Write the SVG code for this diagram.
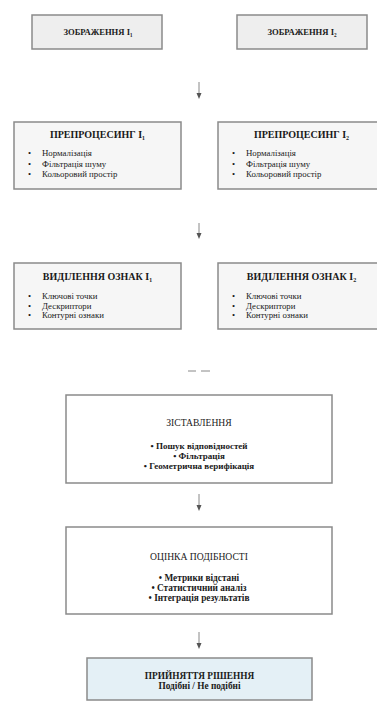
<svg xmlns="http://www.w3.org/2000/svg" width="377" height="704" viewBox="0 0 377 704">
<style>
text{font-family:"Liberation Serif","Times New Roman",serif;fill:#1a1a1a}
.box{stroke:#8a8a8a;stroke-width:1.5}
.g1{fill:#eeeeee}
.g2{fill:#f6f6f6}
.w{fill:#ffffff}
.b{fill:#e4f0f6}
.t1{font-size:8.6px;font-weight:bold;text-anchor:middle}
.t2{font-size:10px;font-weight:bold;text-anchor:middle}
.li{font-size:8.8px}
.t4{font-size:9.6px;text-anchor:middle}
.lc{font-size:9px;font-weight:bold;text-anchor:middle}
.lc2{font-size:9.3px;font-weight:bold;text-anchor:middle}
.conn{stroke:#888;stroke-width:1;fill:none}
</style>
<defs>
<marker id="ah" markerWidth="6" markerHeight="6" refX="3" refY="3" orient="auto" markerUnits="userSpaceOnUse">
<path d="M0,0.5 L6,3 L0,5.5 Z" fill="#555"/>
</marker>
</defs>
<rect width="377" height="704" fill="#fff"/>
<g id="connectors">
<line class="conn" x1="199" y1="82" x2="199" y2="96" marker-end="url(#ah)"/>
<line class="conn" x1="199" y1="223" x2="199" y2="236" marker-end="url(#ah)"/>
<line class="conn" x1="188" y1="371" x2="196" y2="371"/>
<line class="conn" x1="201" y1="371" x2="210" y2="371"/>
<line class="conn" x1="199" y1="494" x2="199" y2="508" marker-end="url(#ah)"/>
<line class="conn" x1="199" y1="632" x2="199" y2="646" marker-end="url(#ah)"/>
</g>
<g id="img1">
<rect class="box g1" x="32" y="15" width="130" height="34"/>
<text class="t1" x="98" y="35">ЗОБРАЖЕННЯ I₁</text>
</g>
<g id="img2">
<rect class="box g1" x="237" y="15" width="130" height="34"/>
<text class="t1" x="302" y="35">ЗОБРАЖЕННЯ I₂</text>
</g>
<g id="pre1">
<rect class="box g2" x="14" y="122" width="167" height="67"/>
<text class="t2" x="97.5" y="138">ПРЕПРОЦЕСИНГ I₁</text>
<text class="li" x="28" y="156">•</text><text class="li" x="42" y="156">Нормалізація</text>
<text class="li" x="28" y="166.5">•</text><text class="li" x="42" y="166.5">Фільтрація шуму</text>
<text class="li" x="28" y="177">•</text><text class="li" x="42" y="177">Кольоровий простір</text>
</g>
<g id="pre2">
<rect class="box g2" x="218" y="122" width="167" height="67"/>
<text class="t2" x="301.5" y="138">ПРЕПРОЦЕСИНГ I₂</text>
<text class="li" x="232" y="156">•</text><text class="li" x="246" y="156">Нормалізація</text>
<text class="li" x="232" y="166.5">•</text><text class="li" x="246" y="166.5">Фільтрація шуму</text>
<text class="li" x="232" y="177">•</text><text class="li" x="246" y="177">Кольоровий простір</text>
</g>
<g id="feat1">
<rect class="box g2" x="14" y="263" width="167" height="66"/>
<text class="t2" x="97.5" y="280">ВИДІЛЕННЯ ОЗНАК I₁</text>
<text class="li" x="28" y="298.5">•</text><text class="li" x="42" y="298.5">Ключові точки</text>
<text class="li" x="28" y="308.5">•</text><text class="li" x="42" y="308.5">Дескриптори</text>
<text class="li" x="28" y="318">•</text><text class="li" x="42" y="318">Контурні ознаки</text>
</g>
<g id="feat2">
<rect class="box g2" x="218" y="263" width="167" height="66"/>
<text class="t2" x="301.5" y="280">ВИДІЛЕННЯ ОЗНАК I₂</text>
<text class="li" x="232" y="298.5">•</text><text class="li" x="246" y="298.5">Ключові точки</text>
<text class="li" x="232" y="308.5">•</text><text class="li" x="246" y="308.5">Дескриптори</text>
<text class="li" x="232" y="318">•</text><text class="li" x="246" y="318">Контурні ознаки</text>
</g>
<g id="match">
<rect class="box w" x="66" y="395" width="266" height="88"/>
<text class="t4" x="199" y="426">ЗІСТАВЛЕННЯ</text>
<text class="lc" x="199" y="449">• Пошук відповідностей</text>
<text class="lc" x="199" y="459">• Фільтрація</text>
<text class="lc" x="199" y="469">• Геометрична верифікація</text>
</g>
<g id="sim">
<rect class="box w" x="66" y="527" width="266" height="87"/>
<text class="t4" x="199" y="560">ОЦІНКА ПОДІБНОСТІ</text>
<text class="lc2" x="199" y="581">• Метрики відстані</text>
<text class="lc2" x="199" y="591">• Статистичний аналіз</text>
<text class="lc2" x="199" y="601">• Інтеграція результатів</text>
</g>
<g id="decision">
<rect class="box b" x="87" y="658" width="225" height="42"/>
<text class="lc2" x="199.5" y="679">ПРИЙНЯТТЯ РІШЕННЯ</text>
<text class="lc2" x="199.5" y="688.5">Подібні / Не подібні</text>
</g>
</svg>
